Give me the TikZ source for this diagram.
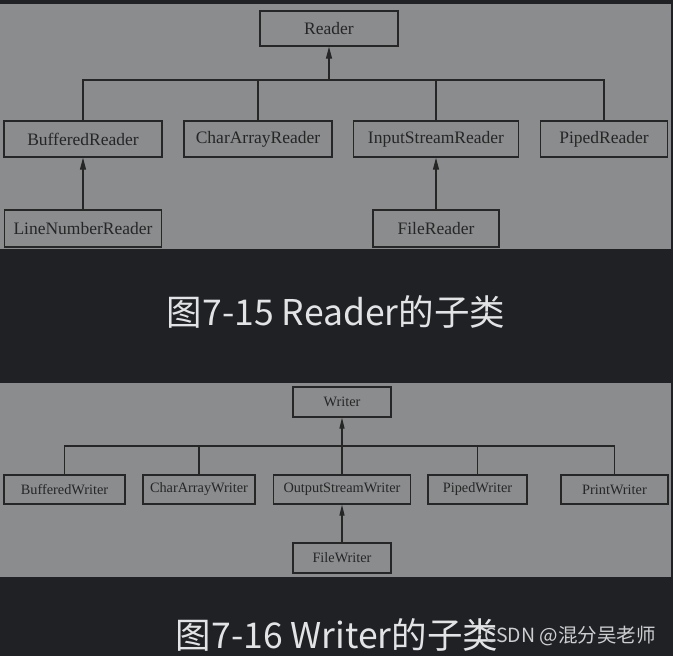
\documentclass[tikz,border=0pt]{standalone}
\usepackage{fontspec}
\setmainfont{Liberation Serif}
\newfontfamily\cjk{Noto Sans CJK SC}
\usetikzlibrary{arrows.meta}
\definecolor{bgdark}{HTML}{202124}
\definecolor{panel}{HTML}{8B8C8E}
\definecolor{ink}{HTML}{262626}
\definecolor{captxt}{HTML}{E2E3E5}
\definecolor{marktxt}{HTML}{CDCED0}
\tikzset{
  rbox/.style={draw=ink, line width=1.4pt, fill=panel, text=ink, inner sep=0pt,
    font=\fontsize{17.5}{20}\selectfont},
  wbox/.style={draw=ink, line width=1.3pt, fill=panel, text=ink, inner sep=0pt,
    font=\fontsize{14.3}{17}\selectfont},
  link/.style={draw=ink, line width=1.3pt},
  rarr/.style={link, -{Triangle[length=12pt,width=6pt]}},
  warr/.style={link, -{Triangle[length=11pt,width=5pt]}},
  captext/.style={text=captxt, font=\cjk\fontsize{35.5}{40}\selectfont, inner sep=0pt},
  wmtext/.style={text=marktxt, font=\cjk\fontsize{19.5}{22}\selectfont, inner sep=0pt}
}
\begin{document}
\begin{tikzpicture}[x=1pt,y=-1pt]
\useasboundingbox (0,0) rectangle (673,656);
\fill[bgdark] (0,0) rectangle (673,656);
\fill[panel] (0,4) rectangle (671,249);
\fill[panel] (0,383) rectangle (671,577);

% Reader hierarchy
\node[rbox, minimum width=138pt, minimum height=35pt] (reader) at (329,28.5) {Reader};
\node[rbox, minimum width=158pt, minimum height=36pt] (bufr) at (83,139) {BufferedReader};
\node[rbox, minimum width=148pt, minimum height=36pt] (car) at (258,139) {CharArrayReader};
\node[rbox, minimum width=165pt, minimum height=36pt] (isr) at (436,139) {InputStreamReader};
\node[rbox, minimum width=127pt, minimum height=36pt] (pipr) at (604,139) {PipedReader};
\node[rbox, minimum width=157pt, minimum height=37pt] (lnr) at (83,228.5) {LineNumberReader};
\node[rbox, minimum width=126pt, minimum height=37pt] (fr) at (436,228.5) {FileReader};
\coordinate (rbus) at (329,80);
\draw[link] (bufr.north) -- (bufr.north |- rbus) -- (pipr.north |- rbus) -- (pipr.north);
\draw[link] (car.north) -- (car.north |- rbus);
\draw[link] (isr.north) -- (isr.north |- rbus);
\draw[rarr] (rbus) -- (reader.south);
\draw[rarr] (lnr.north) -- (bufr.south);
\draw[rarr] (fr.north) -- (isr.south);

\node[captext] (cap1) at (336,312) {图7-15 Reader的子类};

% Writer hierarchy
\node[wbox, minimum width=98pt, minimum height=30pt] (writer) at (342,402) {Writer};
\node[wbox, minimum width=121pt, minimum height=29pt] (bufw) at (64.5,489.5) {BufferedWriter};
\node[wbox, minimum width=112pt, minimum height=29pt] (caw) at (199,489.5) {CharArrayWriter};
\node[wbox, minimum width=137pt, minimum height=29pt] (osw) at (342,489.5) {OutputStreamWriter};
\node[wbox, minimum width=99pt, minimum height=29pt] (pipw) at (477.5,489.5) {PipedWriter};
\node[wbox, minimum width=107pt, minimum height=29pt] (prw) at (614.5,489.5) {PrintWriter};
\node[wbox, minimum width=98pt, minimum height=30pt] (fw) at (342,558) {FileWriter};
\coordinate (wbus) at (342,446);
\draw[link] (bufw.north) -- (bufw.north |- wbus) -- (prw.north |- wbus) -- (prw.north);
\draw[link] (caw.north) -- (caw.north |- wbus);
\draw[link] (pipw.north) -- (pipw.north |- wbus);
\draw[warr] (osw.north) -- (writer.south);
\draw[warr] (fw.north) -- (osw.south);

\node[captext] (cap2) at (337,635) {图7-16 Writer的子类};
\node[wmtext, anchor=west] (wm) at (484,636) {CSDN @混分吴老师};
\end{tikzpicture}
\end{document}
